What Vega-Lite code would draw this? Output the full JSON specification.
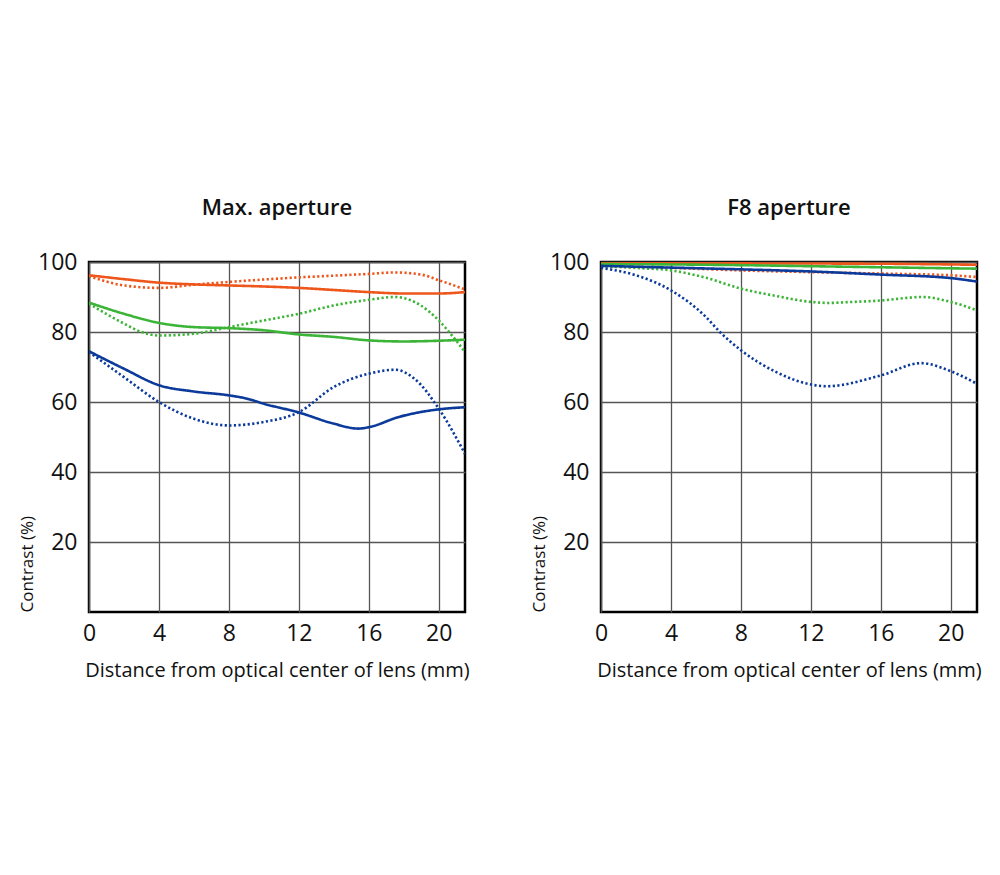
{
  "$schema": "https://vega.github.io/schema/vega-lite/v6.json",
  "background": "white",
  "padding": {"left": 17, "top": 195, "right": 10, "bottom": 10},
  "config": {
    "font": "Open Sans",
    "view": {"stroke": "#000", "strokeWidth": 2.5},
    "title": {"fontSize": 22, "fontWeight": 600, "color": "#111", "offset": 31},
    "axis": {
      "labelFont": "Open Sans", "labelFontSize": 23, "labelColor": "#111",
      "titleFont": "Open Sans", "titleFontWeight": "normal", "titleColor": "#111",
      "ticks": false, "domain": false,
      "gridColor": "#555", "gridWidth": 1.3, "gridOpacity": 1
    }
  },
  "data": {"values": [
    {"panel":"max","freq":"10","type":"R","x":0,"y":96.2},{"panel":"max","freq":"10","type":"R","x":2,"y":95.1},{"panel":"max","freq":"10","type":"R","x":4,"y":94.1},{"panel":"max","freq":"10","type":"R","x":6,"y":93.6},{"panel":"max","freq":"10","type":"R","x":8,"y":93.3},{"panel":"max","freq":"10","type":"R","x":10,"y":93},{"panel":"max","freq":"10","type":"R","x":12,"y":92.6},{"panel":"max","freq":"10","type":"R","x":14,"y":92},{"panel":"max","freq":"10","type":"R","x":16,"y":91.4},{"panel":"max","freq":"10","type":"R","x":18,"y":91},{"panel":"max","freq":"10","type":"R","x":20,"y":91},{"panel":"max","freq":"10","type":"R","x":21.5,"y":91.4},
    {"panel":"max","freq":"10","type":"T","x":0,"y":96},{"panel":"max","freq":"10","type":"T","x":2,"y":93.3},{"panel":"max","freq":"10","type":"T","x":4,"y":92.6},{"panel":"max","freq":"10","type":"T","x":6,"y":93.5},{"panel":"max","freq":"10","type":"T","x":8,"y":94.3},{"panel":"max","freq":"10","type":"T","x":10,"y":95},{"panel":"max","freq":"10","type":"T","x":12,"y":95.6},{"panel":"max","freq":"10","type":"T","x":14,"y":96.1},{"panel":"max","freq":"10","type":"T","x":16,"y":96.6},{"panel":"max","freq":"10","type":"T","x":17.5,"y":97},{"panel":"max","freq":"10","type":"T","x":19,"y":96.4},{"panel":"max","freq":"10","type":"T","x":20,"y":94.8},{"panel":"max","freq":"10","type":"T","x":21.5,"y":92.2},
    {"panel":"max","freq":"30","type":"R","x":0,"y":88.4},{"panel":"max","freq":"30","type":"R","x":2,"y":85.2},{"panel":"max","freq":"30","type":"R","x":4,"y":82.6},{"panel":"max","freq":"30","type":"R","x":6,"y":81.4},{"panel":"max","freq":"30","type":"R","x":8,"y":81.1},{"panel":"max","freq":"30","type":"R","x":10,"y":80.5},{"panel":"max","freq":"30","type":"R","x":12,"y":79.3},{"panel":"max","freq":"30","type":"R","x":14,"y":78.6},{"panel":"max","freq":"30","type":"R","x":16,"y":77.6},{"panel":"max","freq":"30","type":"R","x":18,"y":77.3},{"panel":"max","freq":"30","type":"R","x":20,"y":77.5},{"panel":"max","freq":"30","type":"R","x":21.5,"y":77.8},
    {"panel":"max","freq":"30","type":"T","x":0,"y":88.1},{"panel":"max","freq":"30","type":"T","x":2,"y":82.4},{"panel":"max","freq":"30","type":"T","x":3,"y":80},{"panel":"max","freq":"30","type":"T","x":4,"y":79},{"panel":"max","freq":"30","type":"T","x":6,"y":79.5},{"panel":"max","freq":"30","type":"T","x":8,"y":81.4},{"panel":"max","freq":"30","type":"T","x":10,"y":83.3},{"panel":"max","freq":"30","type":"T","x":12,"y":85.2},{"panel":"max","freq":"30","type":"T","x":14,"y":87.6},{"panel":"max","freq":"30","type":"T","x":16,"y":89.2},{"panel":"max","freq":"30","type":"T","x":17.5,"y":90},{"panel":"max","freq":"30","type":"T","x":19,"y":87.5},{"panel":"max","freq":"30","type":"T","x":20,"y":83.3},{"panel":"max","freq":"30","type":"T","x":21,"y":77.5},{"panel":"max","freq":"30","type":"T","x":21.5,"y":74.3},
    {"panel":"max","freq":"50","type":"R","x":0,"y":74.5},{"panel":"max","freq":"50","type":"R","x":2,"y":69.5},{"panel":"max","freq":"50","type":"R","x":4,"y":64.8},{"panel":"max","freq":"50","type":"R","x":6,"y":63},{"panel":"max","freq":"50","type":"R","x":8,"y":61.9},{"panel":"max","freq":"50","type":"R","x":9,"y":61},{"panel":"max","freq":"50","type":"R","x":10,"y":59.5},{"panel":"max","freq":"50","type":"R","x":12,"y":57},{"panel":"max","freq":"50","type":"R","x":14,"y":53.8},{"panel":"max","freq":"50","type":"R","x":15.4,"y":52.4},{"panel":"max","freq":"50","type":"R","x":16,"y":52.8},{"panel":"max","freq":"50","type":"R","x":17.7,"y":55.7},{"panel":"max","freq":"50","type":"R","x":20,"y":57.9},{"panel":"max","freq":"50","type":"R","x":21.5,"y":58.5},
    {"panel":"max","freq":"50","type":"T","x":0,"y":74.3},{"panel":"max","freq":"50","type":"T","x":2,"y":67.1},{"panel":"max","freq":"50","type":"T","x":4,"y":60},{"panel":"max","freq":"50","type":"T","x":6,"y":55.2},{"panel":"max","freq":"50","type":"T","x":8,"y":53.3},{"panel":"max","freq":"50","type":"T","x":10,"y":54.3},{"panel":"max","freq":"50","type":"T","x":12,"y":57.1},{"panel":"max","freq":"50","type":"T","x":14,"y":64.3},{"panel":"max","freq":"50","type":"T","x":16,"y":68.1},{"panel":"max","freq":"50","type":"T","x":17.5,"y":69.2},{"panel":"max","freq":"50","type":"T","x":18.6,"y":66.7},{"panel":"max","freq":"50","type":"T","x":20,"y":58.1},{"panel":"max","freq":"50","type":"T","x":21.5,"y":45.2},
    {"panel":"f8","freq":"10","type":"R","x":0,"y":99.7},{"panel":"f8","freq":"10","type":"R","x":8,"y":99.6},{"panel":"f8","freq":"10","type":"R","x":16,"y":99.5},{"panel":"f8","freq":"10","type":"R","x":21.5,"y":99.2},
    {"panel":"f8","freq":"10","type":"T","x":0,"y":98.8},{"panel":"f8","freq":"10","type":"T","x":4,"y":98.3},{"panel":"f8","freq":"10","type":"T","x":8,"y":97.6},{"panel":"f8","freq":"10","type":"T","x":12,"y":97.1},{"panel":"f8","freq":"10","type":"T","x":16,"y":96.7},{"panel":"f8","freq":"10","type":"T","x":20,"y":96.2},{"panel":"f8","freq":"10","type":"T","x":21.5,"y":95.7},
    {"panel":"f8","freq":"30","type":"R","x":0,"y":99.4},{"panel":"f8","freq":"30","type":"R","x":4,"y":99.3},{"panel":"f8","freq":"30","type":"R","x":8,"y":99.1},{"panel":"f8","freq":"30","type":"R","x":12,"y":98.8},{"panel":"f8","freq":"30","type":"R","x":16,"y":98.5},{"panel":"f8","freq":"30","type":"R","x":20,"y":98.2},{"panel":"f8","freq":"30","type":"R","x":21.5,"y":98.1},
    {"panel":"f8","freq":"30","type":"T","x":0,"y":98.8},{"panel":"f8","freq":"30","type":"T","x":2,"y":98.3},{"panel":"f8","freq":"30","type":"T","x":4,"y":97.6},{"panel":"f8","freq":"30","type":"T","x":6,"y":95.5},{"panel":"f8","freq":"30","type":"T","x":8,"y":92.4},{"panel":"f8","freq":"30","type":"T","x":10,"y":90.3},{"panel":"f8","freq":"30","type":"T","x":12,"y":88.6},{"panel":"f8","freq":"30","type":"T","x":13,"y":88.3},{"panel":"f8","freq":"30","type":"T","x":14,"y":88.5},{"panel":"f8","freq":"30","type":"T","x":16,"y":89},{"panel":"f8","freq":"30","type":"T","x":18.4,"y":90},{"panel":"f8","freq":"30","type":"T","x":20,"y":88.6},{"panel":"f8","freq":"30","type":"T","x":21.5,"y":86.2},
    {"panel":"f8","freq":"50","type":"R","x":0,"y":98.9},{"panel":"f8","freq":"50","type":"R","x":4,"y":98.4},{"panel":"f8","freq":"50","type":"R","x":8,"y":97.9},{"panel":"f8","freq":"50","type":"R","x":12,"y":97.3},{"panel":"f8","freq":"50","type":"R","x":16,"y":96.4},{"panel":"f8","freq":"50","type":"R","x":20,"y":95.4},{"panel":"f8","freq":"50","type":"R","x":21.5,"y":94.4},
    {"panel":"f8","freq":"50","type":"T","x":0,"y":98.3},{"panel":"f8","freq":"50","type":"T","x":2,"y":96.2},{"panel":"f8","freq":"50","type":"T","x":4,"y":91.9},{"panel":"f8","freq":"50","type":"T","x":6,"y":84.3},{"panel":"f8","freq":"50","type":"T","x":6.8,"y":80},{"panel":"f8","freq":"50","type":"T","x":8,"y":74.8},{"panel":"f8","freq":"50","type":"T","x":10,"y":68.6},{"panel":"f8","freq":"50","type":"T","x":12,"y":65},{"panel":"f8","freq":"50","type":"T","x":12.9,"y":64.5},{"panel":"f8","freq":"50","type":"T","x":16,"y":67.6},{"panel":"f8","freq":"50","type":"T","x":18.3,"y":71.1},{"panel":"f8","freq":"50","type":"T","x":20,"y":68.8},{"panel":"f8","freq":"50","type":"T","x":21.5,"y":65.2}
  ]},
  "spacing": 58,
  "hconcat": [
    {
      "title": "Max. aperture",
      "width": 376, "height": 350,
      "transform": [{"filter": "datum.panel === 'max'"}],
      "mark": {"type": "line", "interpolate": "monotone", "strokeWidth": 2.6, "clip": true},
      "encoding": {
        "x": {"field": "x", "type": "quantitative", "scale": {"domain": [0, 21.5], "nice": false, "zero": false},
          "axis": {"values": [0, 4, 8, 12, 16, 20], "title": "Distance from optical center of lens (mm)", "titleFontSize": 20, "labelPadding": 10, "titlePadding": 15, "labelFlush": false}},
        "y": {"field": "y", "type": "quantitative", "scale": {"domain": [0, 100], "nice": false},
          "axis": {"values": [20, 40, 60, 80, 100], "title": "Contrast (%)", "titleFontSize": 17, "titleAnchor": "start", "labelPadding": 12, "titlePadding": 1}},
        "color": {"field": "freq", "type": "nominal", "scale": {"domain": ["10", "30", "50"], "range": ["#EE561C", "#3CB437", "#0B3A9B"]}, "legend": null},
        "strokeDash": {"field": "type", "type": "nominal", "scale": {"domain": ["R", "T"], "range": [[1, 0], [2.2, 2.4]]}, "legend": null}
      }
    },
    {
      "title": "F8 aperture",
      "width": 376, "height": 350,
      "transform": [{"filter": "datum.panel === 'f8'"}],
      "mark": {"type": "line", "interpolate": "monotone", "strokeWidth": 2.6, "clip": true},
      "encoding": {
        "x": {"field": "x", "type": "quantitative", "scale": {"domain": [0, 21.5], "nice": false, "zero": false},
          "axis": {"values": [0, 4, 8, 12, 16, 20], "title": "Distance from optical center of lens (mm)", "titleFontSize": 20, "labelPadding": 10, "titlePadding": 15, "labelFlush": false}},
        "y": {"field": "y", "type": "quantitative", "scale": {"domain": [0, 100], "nice": false},
          "axis": {"values": [20, 40, 60, 80, 100], "title": "Contrast (%)", "titleFontSize": 17, "titleAnchor": "start", "labelPadding": 12, "titlePadding": 1}},
        "color": {"field": "freq", "type": "nominal", "scale": {"domain": ["10", "30", "50"], "range": ["#EE561C", "#3CB437", "#0B3A9B"]}, "legend": null},
        "strokeDash": {"field": "type", "type": "nominal", "scale": {"domain": ["R", "T"], "range": [[1, 0], [2.2, 2.4]]}, "legend": null}
      }
    }
  ]
}
